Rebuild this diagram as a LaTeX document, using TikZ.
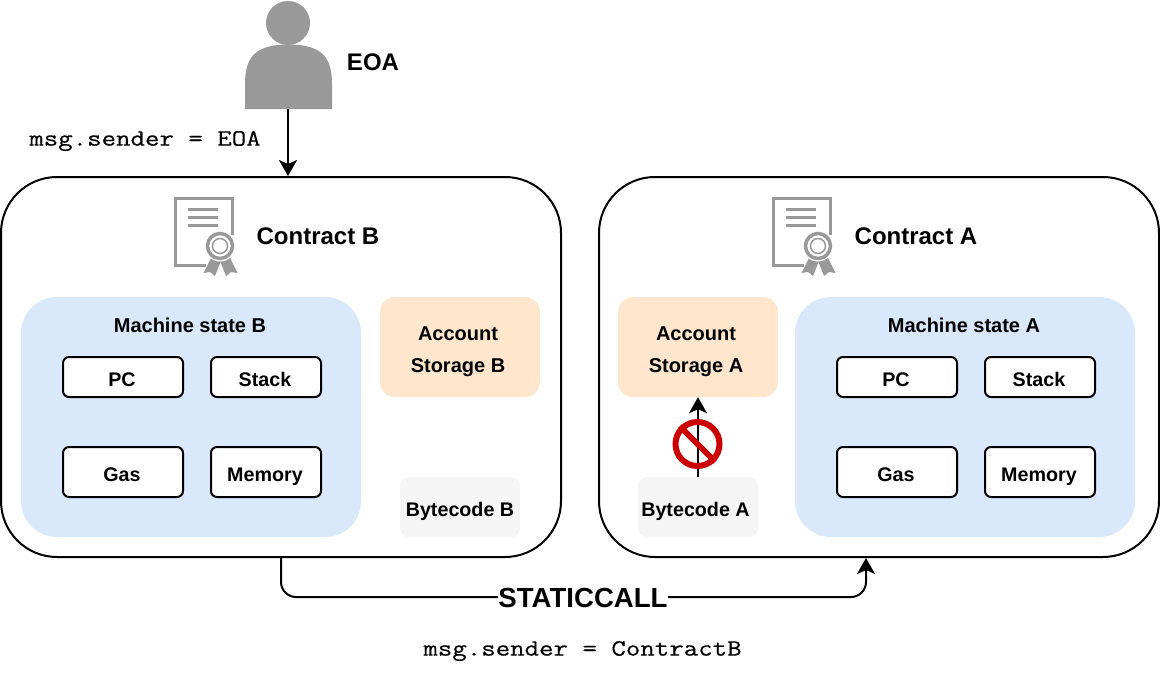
\documentclass[tikz,border=0pt]{standalone}
\usepackage{fontspec}
\setmainfont{Liberation Sans}
\newfontfamily\codeface[FakeStretch=1.2,FakeBold=0.4]{Latin Modern Mono}
\usetikzlibrary{arrows.meta}
\definecolor{iconGray}{HTML}{999999}
\definecolor{stateBlue}{HTML}{DAE8FC}
\definecolor{storageOrange}{HTML}{FFE6CC}
\definecolor{codeGray}{HTML}{F5F5F5}
\definecolor{stopRed}{HTML}{CC0000}
\tikzset{
  contract/.style={draw,line width=2pt,rounded corners=56pt,minimum width=560pt,minimum height=380pt,inner sep=0pt},
  machine/.style={fill=stateBlue,rounded corners=36pt,minimum width=340pt,minimum height=240pt,inner sep=0pt},
  storage/.style={fill=storageOrange,rounded corners=15pt,minimum width=160pt,minimum height=100pt,inner sep=0pt},
  storagetext/.style={inner sep=0pt,align=center,font=\fontsize{20}{32}\selectfont\bfseries},
  bytecode/.style={fill=codeGray,rounded corners=9pt,minimum width=120pt,minimum height=60pt,inner sep=0pt,text height=18pt,text depth=0pt,font=\fontsize{19.7}{24}\selectfont\bfseries},
  reg/.style={draw,fill=white,line width=2pt,rounded corners=6pt,inner sep=0pt,text height=18pt,text depth=0pt,font=\fontsize{19.7}{24}\selectfont\bfseries,execute at end node=\hspace{2pt}},
  title/.style={inner sep=0pt,font=\fontsize{24}{28}\selectfont\bfseries},
  small/.style={inner sep=0pt,font=\fontsize{20}{24}\selectfont\bfseries},
  code/.style={inner sep=0pt,font=\fontsize{23.4}{28}\codeface},
  flow/.style={line width=2pt,-{Stealth[length=16pt,width=18pt,inset=4pt]}}
}
\begin{document}
\begin{tikzpicture}[x=1pt,y=-1pt]
    \useasboundingbox (0,0) rectangle (1160,680);
    % person
    \fill[iconGray] (288,23) circle (22);
    \fill[iconGray] (245,109)--(332,109)--(332,85) .. controls (332,60) and (325,44.5) .. (288.5,44.5) .. controls (252,44.5) and (245,60) .. (245,85)--cycle;
    \node[title] (eoa) at (373,62) {EOA};
    \coordinate (eoafoot) at (288,109);
    % contracts
    \node[contract] (contractB) at (281,367) {};
    \node[contract] (contractA) at (879,367) {};
    \foreach \s in {0,598}{
        \begin{scope}[xshift=\s pt]
            \draw[iconGray,line width=3pt] (206,265.5)--(175.5,265.5)--(175.5,198.5)--(232,198.5)--(232,235);
            \foreach \y in {209,217,225}{
                \draw[iconGray,line width=3pt] (188,\y)--(218,\y);
            }
            \fill[iconGray] (212,256)--(203.5,273)--(210,272)--(215,276)--(220.5,262)--(226,276)--(231,272)--(237.5,273)--(229,256)--cycle;
            \fill[white] (220,246) circle (15.5);
            \draw[iconGray,line width=3.5pt] (220,246) circle (12.5);
            \draw[iconGray,line width=1.5pt] (220,246) circle (7.5);
        \end{scope}
    }
    \node[title] (titleB) at (318,236) {Contract B};
    \node[title] (titleA) at (916,236) {Contract A};
    % machine states
    \node[machine] (machineB) at (191,417) {};
    \node[machine] (machineA) at (965,417) {};
    \node[small] (labelB) at (190,325) {Machine state B};
    \node[small] (labelA) at (964,325) {Machine state A};
    \node[reg,minimum width=120pt,minimum height=40pt] (pcB) at (123,377) {PC};
    \node[reg,minimum width=110pt,minimum height=40pt] (stackB) at (266,377) {Stack};
    \node[reg,minimum width=120pt,minimum height=50pt] (gasB) at (123,472) {Gas};
    \node[reg,minimum width=110pt,minimum height=50pt] (memB) at (266,472) {Memory};
    \node[reg,minimum width=120pt,minimum height=40pt] (pcA) at (897,377) {PC};
    \node[reg,minimum width=110pt,minimum height=40pt] (stackA) at (1040,377) {Stack};
    \node[reg,minimum width=120pt,minimum height=50pt] (gasA) at (897,472) {Gas};
    \node[reg,minimum width=110pt,minimum height=50pt] (memA) at (1040,472) {Memory};
    % storage and bytecode
    \node[storage] (storeB) at (460,347) {};
    \node[storage] (storeA) at (698,347) {};
    \node[storagetext] (storeBtext) at (458,352) {Account\\Storage B};
    \node[storagetext] (storeAtext) at (696,352) {Account\\Storage A};
    \node[bytecode] (codeB) at (460,507) {Bytecode B};
    \node[bytecode] (codeA) at (698,507) {Bytecode A\kern5pt};
    % calls
    \draw[flow] (eoafoot)--(eoafoot |- contractB.north);
    \node[code] (senderEOA) at (145,141) {msg.sender = EOA};
    \draw[flow] (codeA.north)--(storeA.south);
    \node[circle,draw=stopRed,line width=6pt,minimum size=44pt,inner sep=0pt] (noentry) at (697.5,444) {};
    \draw[stopRed,line width=6pt] (noentry.north west)--(noentry.south east);
    \coordinate (callmid) at (583,597);
    \coordinate (callin) at (866,558);
    \draw[flow,rounded corners=15pt] (contractB.south) |- (callmid) -| (callin);
    \node[fill=white,inner sep=0pt,font=\fontsize{27.6}{30}\selectfont\bfseries] (staticcall) at (583,598) {STATICCALL};
    \node[code] (senderB) at (582.5,651) {msg.sender = ContractB};
\end{tikzpicture}
\end{document}
